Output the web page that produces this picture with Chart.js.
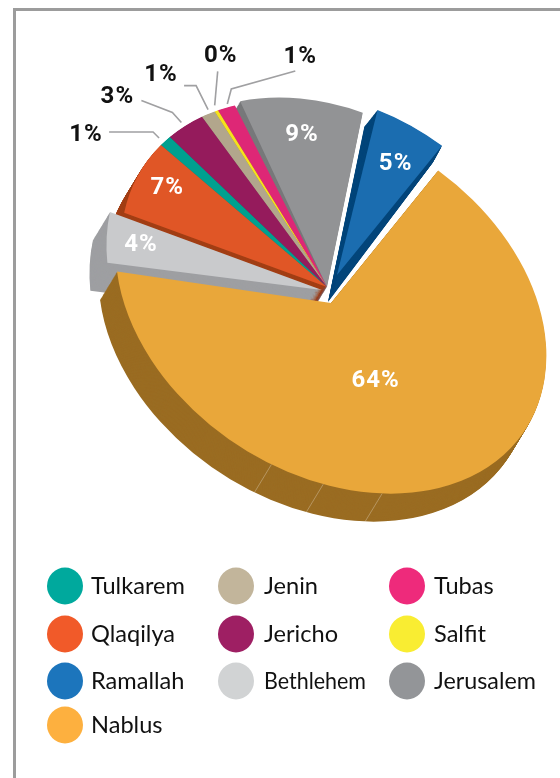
<!DOCTYPE html>
<html>
<head>
<meta charset="utf-8">
<style>
html,body{margin:0;padding:0;background:#fff;}
#wrap{position:relative;width:560px;height:778px;overflow:hidden;}
#frame{position:absolute;left:13px;top:8px;right:0;bottom:0;border-left:3px solid #9c9c9c;border-top:3px solid #9c9c9c;}
canvas{position:absolute;left:0;top:0;}
</style>
<script src="https://cdn.jsdelivr.net/npm/chart.js@4"></script>
</head>
<body>
<div id="wrap"><div id="frame"></div><canvas id="c" width="560" height="778"></canvas></div>
<script>
// Data, clockwise from the start of the Nablus slice
const categories = ["Nablus","Bethlehem","Qlaqilya","Tulkarem","Jericho","Jenin","Salfit","Tubas","Jerusalem","Ramallah"];
const values     = [64.49, 4.3, 7.2, 1.1, 3.4, 1.2, 0.3, 1.49, 9.49, 5.49];
const topColors  = ["#e9a73a","#c9cacc","#e05626","#00a08f","#951b5c","#b2a68c","#f5e11c","#de2776","#929395","#1b6db0"];
const sideColors = ["#9a6c22","#9e9fa2","#a23e14","#007a6d","#6d1444","#8a7f68","#b8a912","#a81c58","#77787a","#03457a"];
// Legend
const legendNames  = ["Tulkarem","Jenin","Tubas","Qlaqilya","Jericho","Salfit","Ramallah","Bethlehem","Jerusalem","Nablus"];
const legendColors = ["#00a99d","#c2b59b","#ee2a7b","#f15a29","#9e1f63","#f9ed32","#1c75bc","#d1d3d4","#939598","#fdb03f"];

// Projection of the pie plane onto the page (tilted ellipse)
const PROJ = {a:208, b:22.9, c:22.9, d:188};
const PROJ_N = {a:213, b:25, c:32, d:189};
// Per-slice placement: apex on page, spin (deg), scale, extrusion vector, extrusion growth/spin
const GROUP = {pr:PROJ, ax:327, ay:287, spin:-1.0, s:0.985, dep:[-17,28], grow:1, dspin:0};
const place = [
  {pr:PROJ_N, ax:331, ay:303, spin:0, s:1, dep:[-17,28], grow:1, dspin:0},
  {pr:PROJ, ax:322, ay:290, spin:-0.9, s:1.03, dep:[-17,28], grow:1, dspin:0},
  GROUP,GROUP,GROUP,GROUP,GROUP,GROUP,
  {pr:PROJ, ax:327, ay:287, spin:1.0, s:1.0, dep:[-17,28], grow:1, dspin:0},
  {pr:PROJ, ax:337, ay:275, spin:2.8, s:0.96, dep:[-9,27], grow:1.05, dspin:-1.7}
];
const drawOrder = [8,7,6,5,4,3,2,1,9,0];
const innerLabels = {
  0:{f:0.41,dx:-4,dy:3},
  1:{f:0.85,dx:2,dy:0},
  2:{f:0.87,dx:5,dy:-2},
  8:{f:0.82,dx:-3,dy:2},
  9:{f:0.78,dx:1,dy:5}
};
// Leader lines: slice index, rim factor and nudge, then elbow / end / text offsets from the rim point
const outerLabels = [
  {i:3, rim:1.02, off:[-3,0],  path:[[-6,-6],[-50,-6]], text:[-73,-3]},
  {i:4, rim:1.04, off:[2,3],   path:[[-9,-10],[-40,-22]], text:[-64,-25]},
  {i:5, rim:1.06, off:[7,6],   path:[[-12,-24],[-24,-24]], text:[-47,-35]},
  {i:6, rim:1.06, off:[5,5],   path:[[3,-34]], text:[6,-49]},
  {i:7, rim:1.06, off:[7,7],   path:[[4,-15],[68,-33]], text:[73,-47]}
];
const seamAngles = [204.6, 190.6, 174.8];
const legendMaxWidth = 102;
const rad = d => d*Math.PI/180;

function toPage(p, r, deg){ // r in unit radius, deg clockwise from top in chart space
  const t = rad(deg + p.spin), ux = Math.sin(t)*r*p.s, uy = -Math.cos(t)*r*p.s, m = p.pr;
  return {x:p.ax + m.a*ux + m.c*uy, y:p.ay + m.b*ux + m.d*uy};
}
function midDeg(el){ return ((el.startAngle+el.endAngle)/2)*180/Math.PI + 90; }

function drawSlice(ctx, el, p, dx, dy, scale, spin, color){
  const R = el.outerRadius, m = p.pr;
  ctx.save();
  ctx.translate(p.ax+dx, p.ay+dy);
  ctx.transform(m.a/R, m.b/R, m.c/R, m.d/R, 0, 0);
  ctx.rotate(rad(p.spin+spin));
  ctx.scale(p.s*scale, p.s*scale);
  ctx.translate(-el.x, -el.y);
  const orig = el.options;
  if (color){ const o = Object.create(orig); o.backgroundColor = color; el.options = o; }
  el.draw(ctx);
  el.options = orig;
  ctx.restore();
}

const piePlugin = {
  id:'pie3d',
  beforeDatasetsDraw(chart){
    const ctx = chart.ctx, els = chart.getDatasetMeta(0).data;
    drawOrder.forEach(i=>{
      const el = els[i], p = place[i], N = 36;
      for(let k=N;k>=1;k--){
        const t = k/N;
        drawSlice(ctx, el, p, p.dep[0]*t, p.dep[1]*t, 1+(p.grow-1)*t, p.dspin*t, sideColors[i]);
      }
      if(i===0){
        ctx.save();
        ctx.strokeStyle='rgba(255,255,255,0.28)'; ctx.lineWidth=1;
        seamAngles.forEach(a=>{
          const q = toPage(p,1,a);
          ctx.beginPath(); ctx.moveTo(q.x,q.y); ctx.lineTo(q.x+p.dep[0],q.y+p.dep[1]); ctx.stroke();
        });
        ctx.restore();
      }
      drawSlice(ctx, el, p, 0, 0, 1, 0, null);
    });
    return false;
  },
  afterDraw(chart){
    const ctx = chart.ctx, els = chart.getDatasetMeta(0).data;
    ctx.save();
    ctx.textAlign='center'; ctx.textBaseline='middle';
    ctx.font='bold 24px Roboto'; ctx.letterSpacing='1px';
    ctx.fillStyle='#ffffff';
    Object.keys(innerLabels).forEach(k=>{
      const i=+k, L=innerLabels[i], q=toPage(place[i],L.f,midDeg(els[i]));
      ctx.fillText(Math.round(values[i])+'%', q.x+L.dx, q.y+L.dy);
    });
    outerLabels.forEach(o=>{
      const el=els[o.i], q0=toPage(place[o.i],o.rim,midDeg(el));
      const q={x:q0.x+o.off[0],y:q0.y+o.off[1]};
      ctx.strokeStyle='#a0a0a2'; ctx.lineWidth=1.6;
      ctx.beginPath(); ctx.moveTo(q.x,q.y);
      o.path.forEach(d=>ctx.lineTo(q.x+d[0],q.y+d[1]));
      ctx.stroke();
      ctx.fillStyle='#111111';
      ctx.fillText(Math.round(values[o.i])+'%', q.x+o.text[0], q.y+o.text[1]);
    });
    // Legend
    const colX=[65,236,407], textX=[91,264,434], rowY=[586,634,681,725];
    ctx.letterSpacing='0px';
    ctx.font='23.6px Lato'; ctx.textAlign='left';
    legendNames.forEach((n,j)=>{
      const cx=colX[j%3], cy=rowY[Math.floor(j/3)];
      ctx.fillStyle=legendColors[j];
      ctx.beginPath(); ctx.ellipse(cx,cy,18,18.5,0,0,Math.PI*2); ctx.fill();
      ctx.fillStyle='#111111';
      ctx.fillText(n,textX[j%3],cy+0.5,legendMaxWidth);
    });
    ctx.restore();
  }
};

new Chart(document.getElementById('c'),{
  type:'pie',
  data:{labels:categories,datasets:[{data:values,backgroundColor:topColors,borderWidth:0}]},
  options:{
    responsive:false,animation:false,rotation:38.4,circumference:356.6,
    layout:{padding:0},
    plugins:{legend:{display:false},tooltip:{enabled:false}}
  },
  plugins:[piePlugin]
});
</script>
</body>
</html>
